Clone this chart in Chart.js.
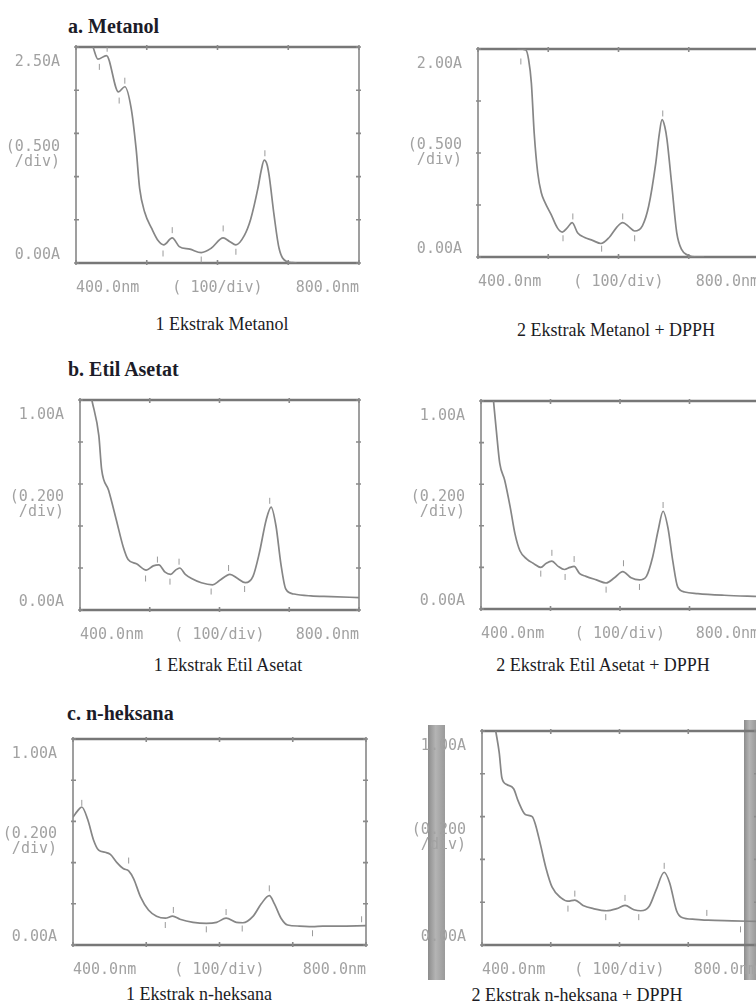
<!DOCTYPE html>
<html>
<head>
<meta charset="utf-8">
<title>Spektrum UV-Vis</title>
<script src="https://cdn.jsdelivr.net/npm/chart.js@4.4.0/dist/chart.umd.min.js"></script>
<style>
  html, body { margin: 0; padding: 0; background: #fff; overflow: hidden; }
  body { width: 756px; height: 1003px; position: relative; }
  canvas { position: absolute; }
  .title { position: absolute; font: bold 20px "Liberation Serif", "DejaVu Serif", serif; color: #1c1c28; white-space: nowrap; transform: translateY(-50%); }
  .caption { position: absolute; font: 18px "Liberation Serif", "DejaVu Serif", serif; color: #1c1c24; white-space: nowrap; transform: translate(-50%, -50%); }
  .edge { position: absolute; background: linear-gradient(90deg, #8c8c8c, #b4b4b4 45%, #9a9a9a); }
</style>
</head>
<body>

<div class="title" style="left:68px; top:26px;">a. Metanol</div>
<div class="title" style="left:68px; top:369px;">b. Etil Asetat</div>
<div class="title" style="left:67px; top:713px;">c. n-heksana</div>

<div class="caption" style="left:222px; top:324px;">1 Ekstrak Metanol</div>
<div class="caption" style="left:616px; top:330px;">2 Ekstrak Metanol + DPPH</div>
<div class="caption" style="left:228px; top:665px;">1 Ekstrak Etil Asetat</div>
<div class="caption" style="left:603px; top:665px;">2 Ekstrak Etil Asetat + DPPH</div>
<div class="caption" style="left:199px; top:994px;">1 Ekstrak n-heksana</div>
<div class="caption" style="left:577px; top:995px;">2 Ekstrak n-heksana + DPPH</div>

<div class="edge" style="left:428px; top:725px; width:17px; height:255px;"></div>
<div class="edge" style="left:744px; top:720px; width:12px; height:260px;"></div>

<canvas id="c1"></canvas>
<canvas id="c2"></canvas>
<canvas id="c3"></canvas>
<canvas id="c4"></canvas>
<canvas id="c5"></canvas>
<canvas id="c6"></canvas>

<script>
// wavelengths (nm) and absorbance
const wlMetanol = [424, 431, 443, 460, 469, 478, 485, 490, 497, 507, 516, 524, 536, 546, 561, 577, 591, 608, 617, 626, 638, 647, 657, 662, 666, 670, 673, 680, 687, 697, 706, 712];
const absMetanol = [2.50, 2.36, 2.40, 1.98, 2.04, 1.79, 1.32, 0.86, 0.59, 0.40, 0.26, 0.21, 0.29, 0.19, 0.16, 0.12, 0.17, 0.29, 0.25, 0.21, 0.32, 0.51, 0.86, 1.08, 1.19, 1.14, 1.01, 0.55, 0.17, 0.02, 0.005, 0];

const wlMetanolDpph = [456, 468, 472, 476, 480, 485, 490, 495, 504, 513, 520, 527, 534, 542, 551, 563, 575, 587, 598, 606, 615, 623, 634, 643, 653, 658, 662, 666, 669, 676, 683, 690, 698, 712, 722];
const absMetanolDpph = [2.00, 1.99, 1.90, 1.67, 1.19, 0.81, 0.62, 0.53, 0.41, 0.28, 0.24, 0.28, 0.33, 0.23, 0.19, 0.16, 0.13, 0.19, 0.29, 0.33, 0.29, 0.25, 0.30, 0.49, 0.90, 1.18, 1.32, 1.25, 1.13, 0.68, 0.23, 0.07, 0.02, 0.0, 0.0];

const wlEtil = [417, 427, 431, 441, 452, 462, 469, 481, 495, 505, 513, 522, 530, 537, 543, 551, 560, 574, 590, 600, 615, 626, 637, 648, 657, 667, 674, 681, 688, 695, 707, 731, 760, 800];
const absEtil = [1.00, 0.83, 0.67, 0.57, 0.43, 0.30, 0.24, 0.22, 0.19, 0.21, 0.215, 0.18, 0.17, 0.19, 0.20, 0.17, 0.15, 0.13, 0.12, 0.14, 0.17, 0.15, 0.13, 0.16, 0.27, 0.43, 0.49, 0.40, 0.22, 0.10, 0.076, 0.067, 0.064, 0.059];

const wlEtilDpph = [418, 422, 427, 434, 442, 449, 456, 466, 475, 486, 494, 502, 511, 520, 528, 534, 542, 551, 566, 580, 592, 604, 616, 628, 638, 647, 655, 662, 669, 676, 683, 693, 712, 750, 800];
const absEtilDpph = [1.00, 0.86, 0.70, 0.62, 0.49, 0.36, 0.28, 0.24, 0.22, 0.20, 0.22, 0.23, 0.205, 0.19, 0.20, 0.205, 0.17, 0.157, 0.14, 0.125, 0.15, 0.18, 0.15, 0.14, 0.157, 0.25, 0.38, 0.47, 0.39, 0.23, 0.106, 0.082, 0.074, 0.066, 0.06];

const wlHeksana = [400, 406, 412, 420, 428, 435, 444, 451, 460, 469, 476, 483, 492, 503, 514, 526, 536, 546, 564, 582, 596, 609, 623, 632, 646, 657, 668, 675, 684, 693, 709, 727, 741, 763, 800];
const absHeksana = [0.62, 0.65, 0.67, 0.61, 0.51, 0.46, 0.45, 0.44, 0.40, 0.37, 0.36, 0.32, 0.235, 0.17, 0.14, 0.13, 0.14, 0.125, 0.11, 0.105, 0.11, 0.13, 0.11, 0.108, 0.14, 0.20, 0.24, 0.20, 0.13, 0.097, 0.092, 0.089, 0.092, 0.092, 0.094];

const wlHeksanaDpph = [420, 425, 429, 436, 446, 453, 463, 473, 478, 485, 493, 502, 515, 525, 535, 547, 562, 581, 596, 608, 621, 631, 643, 653, 665, 673, 683, 690, 710, 729, 764, 800];
const absHeksanaDpph = [1.00, 0.90, 0.78, 0.75, 0.73, 0.67, 0.61, 0.60, 0.56, 0.47, 0.36, 0.27, 0.22, 0.205, 0.21, 0.185, 0.17, 0.16, 0.17, 0.185, 0.165, 0.16, 0.18, 0.255, 0.34, 0.29, 0.16, 0.13, 0.12, 0.116, 0.113, 0.11];

// little peak / valley marks printed by the spectrophotometer
const markWlMetanol = [433, 444, 461, 469, 523, 536, 577, 608, 626, 667];
const markAbsMetanol = [2.27, 2.48, 1.88, 2.11, 0.11, 0.38, 0.04, 0.40, 0.13, 1.27];
const markWlMetanolDpph = [461, 521, 535, 576, 606, 623, 663];
const markAbsMetanolDpph = [1.88, 0.18, 0.39, 0.08, 0.39, 0.18, 1.38];
const markWlEtil = [494, 511, 529, 542, 588, 613, 636, 672];
const markAbsEtil = [0.15, 0.24, 0.135, 0.23, 0.088, 0.20, 0.10, 0.52];
const markWlEtilDpph = [486, 502, 521, 534, 580, 605, 628, 662];
const markAbsEtilDpph = [0.17, 0.27, 0.154, 0.24, 0.093, 0.22, 0.106, 0.50];
const markWlHeksana = [412, 476, 526, 537, 582, 609, 631, 668, 727, 794];
const markAbsHeksana = [0.69, 0.41, 0.097, 0.17, 0.076, 0.16, 0.08, 0.275, 0.057, 0.125];
const markWlHeksanaDpph = [525, 535, 580, 608, 628, 665, 727, 776];
const markAbsHeksanaDpph = [0.17, 0.24, 0.13, 0.22, 0.13, 0.37, 0.15, 0.073];

const xTickLabels = ['400.0nm', '( 100/div)', '800.0nm'];
const yLabels25 = ['0.00A', '(0.500', '/div)', '2.50A'];
const yLabels20 = ['0.00A', '(0.500', '/div)', '2.00A'];
const yLabels10 = ['0.00A', '(0.200', '/div)', '1.00A'];

const Y_AXIS_W = 70;
const X_AXIS_H = 40;
const PAD_TOP = 6;
const PAD_RIGHT = 4;
const monoFont = { family: '"DejaVu Sans Mono", "Liberation Mono", monospace', size: 15, lineHeight: 1.0 };

const framePlugin = {
    id: 'frame',
    beforeDatasetsDraw(chart, args, opts) {
        const { ctx, chartArea: a, scales: { x, y } } = chart;
        ctx.save();
        ctx.strokeStyle = '#777';
        ctx.lineCap = 'butt';
        // heavy top / bottom rails, lighter sides
        ctx.lineWidth = 2.4;
        ctx.beginPath();
        ctx.moveTo(a.left - 1, a.top); ctx.lineTo(a.right, a.top);
        ctx.moveTo(a.left - 1, a.bottom); ctx.lineTo(a.right, a.bottom);
        ctx.stroke();
        ctx.lineWidth = 1.4;
        ctx.beginPath();
        ctx.moveTo(a.left, a.top); ctx.lineTo(a.left, a.bottom);
        ctx.moveTo(a.right, a.top); ctx.lineTo(a.right, a.bottom);
        ctx.stroke();
        // division marks
        ctx.lineWidth = 1.6;
        ctx.strokeStyle = '#8a8a8a';
        ctx.beginPath();
        for (let v = x.min; v <= x.max + 0.01; v += 100) {
            const px = x.getPixelForValue(v);
            ctx.moveTo(px, a.top - 2); ctx.lineTo(px, a.top + 3);
            ctx.moveTo(px, a.bottom + 2); ctx.lineTo(px, a.bottom - 3);
        }
        for (let v = y.min; v <= y.max + 1e-6; v += opts.step) {
            const py = y.getPixelForValue(v);
            ctx.moveTo(a.left - 2, py); ctx.lineTo(a.left + 3, py);
            ctx.moveTo(a.right + 2, py); ctx.lineTo(a.right - 3, py);
        }
        ctx.stroke();
        ctx.restore();
    }
};

function toPoints(xs, ys) {
    return xs.map((v, i) => ({ x: v, y: ys[i] }));
}

function setupSpectrum(id, plot, wl, abs, markWl, markAbs, yMax, yStep, yLabels) {
    const canvas = document.getElementById(id);
    if (!canvas) {
        console.error(id + ' canvas not found');
        return;
    }
    const [left, top, right, bottom] = plot;
    canvas.width = (right - left) + Y_AXIS_W + PAD_RIGHT;
    canvas.height = (bottom - top) + PAD_TOP + X_AXIS_H;
    canvas.style.left = (left - Y_AXIS_W) + 'px';
    canvas.style.top = (top - PAD_TOP) + 'px';

    const yText = [[yLabels[0], ''], [yLabels[1], yLabels[2]], ['', '', yLabels[3]]];

    new Chart(canvas.getContext('2d'), {
        type: 'line',
        data: {
            datasets: [{
                data: toPoints(wl, abs),
                borderColor: '#868686',
                borderWidth: 1.7,
                pointRadius: 0,
                cubicInterpolationMode: 'monotone',
                fill: false
            }, {
                data: toPoints(markWl, markAbs),
                showLine: false,
                pointStyle: 'line',
                pointRotation: 90,
                pointRadius: 3,
                pointBorderWidth: 1,
                pointBorderColor: '#9a9a9a'
            }]
        },
        options: {
            responsive: false,
            maintainAspectRatio: false,
            animation: false,
            events: [],
            layout: { padding: { top: PAD_TOP, right: PAD_RIGHT, left: 0, bottom: 0 } },
            plugins: {
                legend: { display: false },
                tooltip: { enabled: false },
                frame: { step: yStep }
            },
            scales: {
                x: {
                    type: 'linear',
                    min: 400,
                    max: 800,
                    grid: { display: false },
                    border: { display: false },
                    afterBuildTicks: scale => { scale.ticks = [400, 600, 800].map(v => ({ value: v })); },
                    afterFit: scale => { scale.height = X_AXIS_H; scale.paddingLeft = 0; scale.paddingRight = 0; },
                    ticks: {
                        align: 'inner',
                        autoSkip: false,
                        maxRotation: 0,
                        padding: 10,
                        color: '#a2a2a2',
                        font: monoFont,
                        callback: (value, index) => xTickLabels[index]
                    }
                },
                y: {
                    min: 0,
                    max: yMax,
                    grid: { display: false },
                    border: { display: false },
                    afterBuildTicks: scale => { scale.ticks = [0, yMax / 2, yMax].map(v => ({ value: v })); },
                    afterFit: scale => { scale.width = Y_AXIS_W; scale.paddingTop = 0; scale.paddingBottom = 0; },
                    ticks: {
                        autoSkip: false,
                        padding: 8,
                        color: '#a2a2a2',
                        font: monoFont,
                        callback: (value, index) => yText[index]
                    }
                }
            }
        },
        plugins: [framePlugin]
    });
}

setupSpectrum('c1', [76, 47, 360, 263], wlMetanol, absMetanol, markWlMetanol, markAbsMetanol, 2.5, 0.5, yLabels25);
setupSpectrum('c2', [478, 49, 760, 257], wlMetanolDpph, absMetanolDpph, markWlMetanolDpph, markAbsMetanolDpph, 2.0, 0.5, yLabels20);
setupSpectrum('c3', [80, 400, 360, 610], wlEtil, absEtil, markWlEtil, markAbsEtil, 1.0, 0.2, yLabels10);
setupSpectrum('c4', [481, 401, 760, 609], wlEtilDpph, absEtilDpph, markWlEtilDpph, markAbsEtilDpph, 1.0, 0.2, yLabels10);
setupSpectrum('c5', [73, 739, 367, 945], wlHeksana, absHeksana, markWlHeksana, markAbsHeksana, 1.0, 0.2, yLabels10);
setupSpectrum('c6', [482, 731, 758, 945], wlHeksanaDpph, absHeksanaDpph, markWlHeksanaDpph, markAbsHeksanaDpph, 1.0, 0.2, yLabels10);
</script>
</body>
</html>
